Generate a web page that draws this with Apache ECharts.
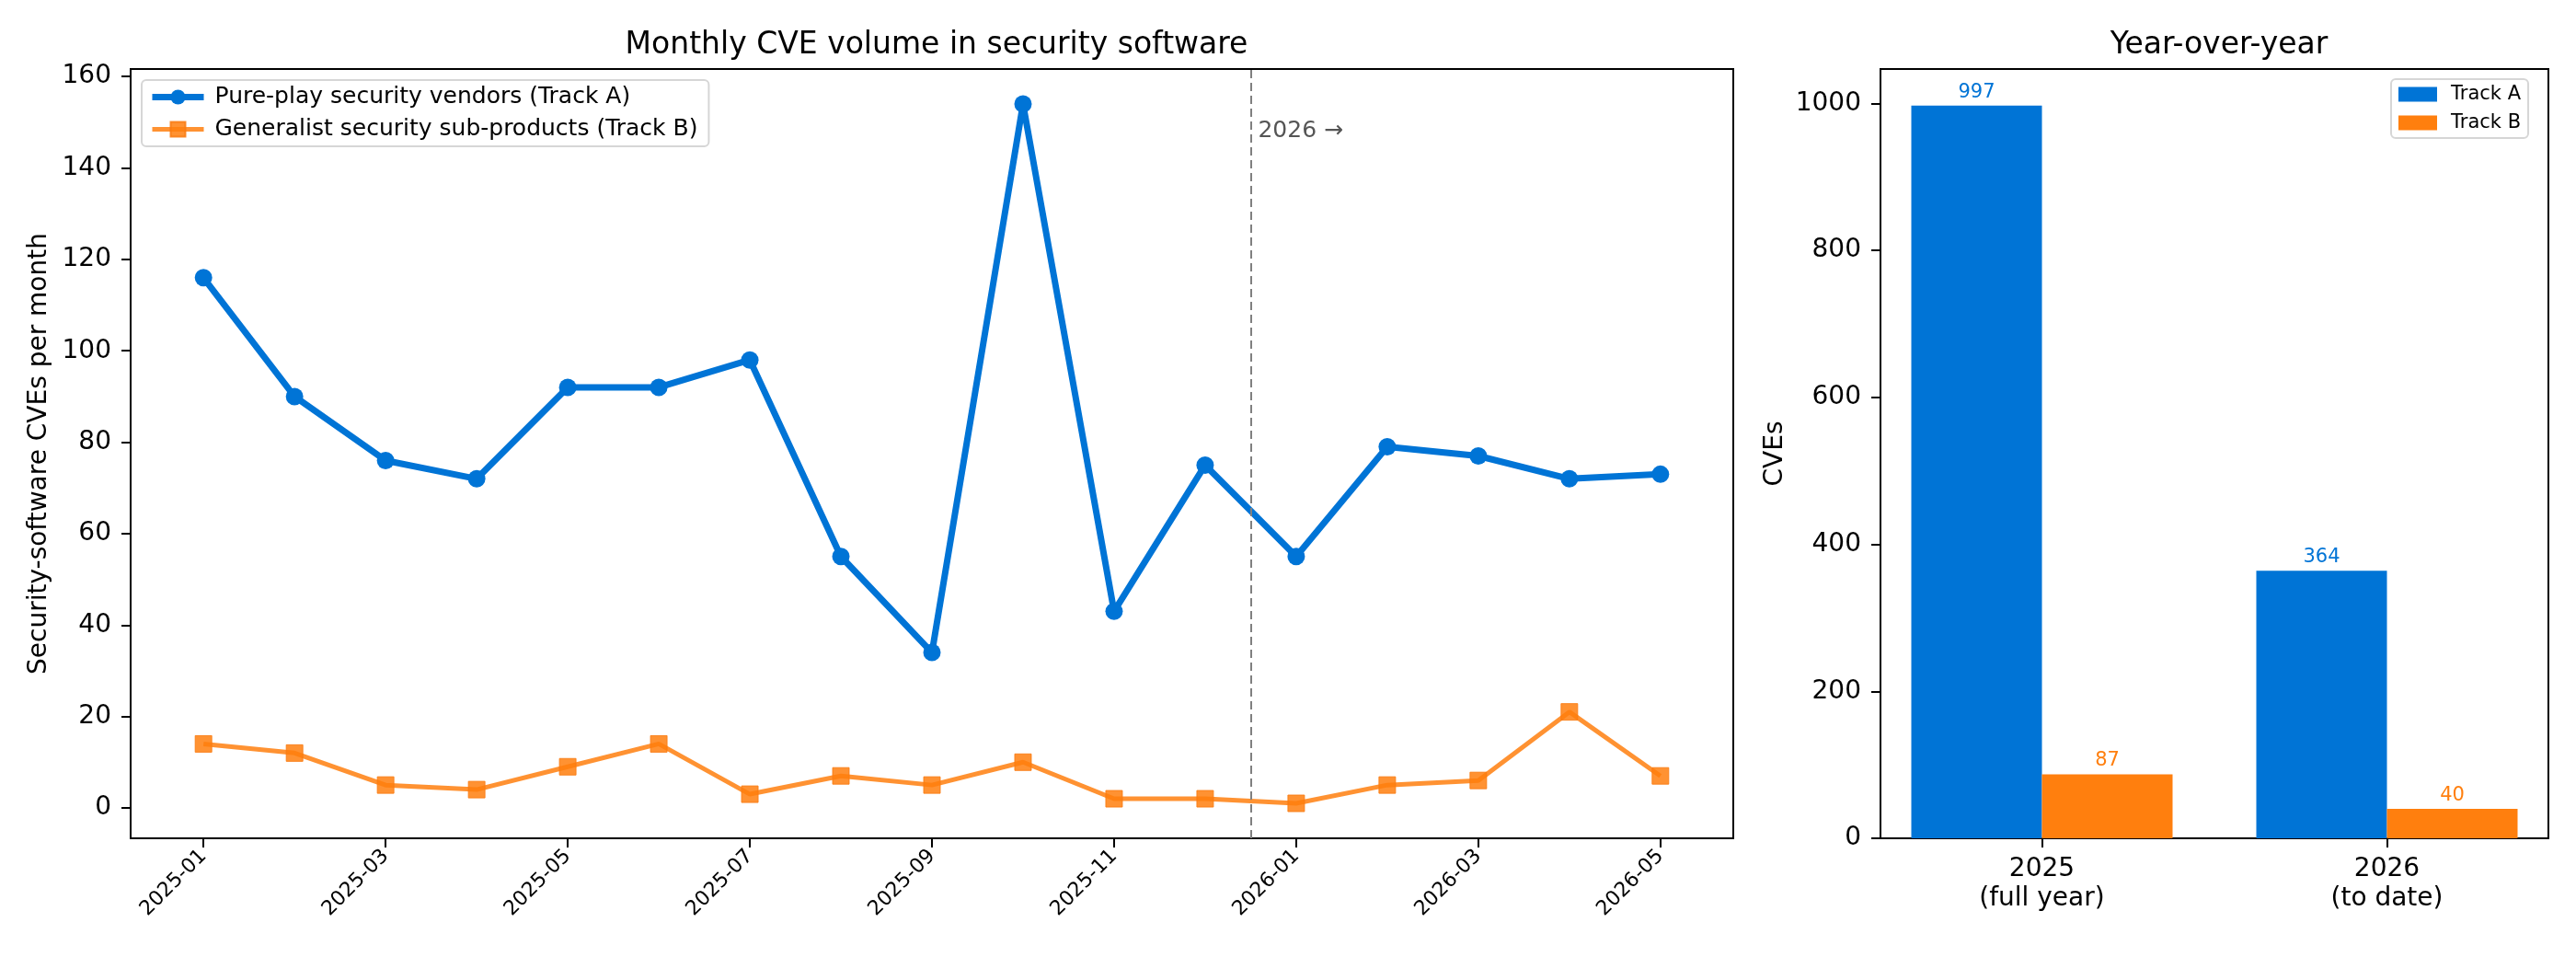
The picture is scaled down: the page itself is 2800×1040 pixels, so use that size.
<!DOCTYPE html>
<html>
<head>
<meta charset="utf-8">
<title>Monthly CVE volume in security software</title>
<script src="https://cdn.jsdelivr.net/npm/echarts@6/dist/echarts.min.js"></script>
<style>
  html, body { margin: 0; padding: 0; background: #fff; }
  #chart { width: 2800px; height: 1040px; }
</style>
</head>
<body>
<div id="chart"></div>
<script>
// monthly counts
const months = ['2025-01', '2025-02', '2025-03', '2025-04', '2025-05', '2025-06', '2025-07', '2025-08',
  '2025-09', '2025-10', '2025-11', '2025-12', '2026-01', '2026-02', '2026-03', '2026-04', '2026-05'];
const trackA = [116, 90, 76, 72, 92, 92, 98, 55, 34, 154, 43, 75, 55, 79, 77, 72, 73];
const trackB = [14, 12, 5, 4, 9, 14, 3, 7, 5, 10, 2, 2, 1, 5, 6, 21, 7];
const monthTicks = ['2025-01', '2025-03', '2025-05', '2025-07', '2025-09', '2025-11', '2026-01', '2026-03', '2026-05'];
const lineTicks = [0, 20, 40, 60, 80, 100, 120, 140, 160];

// yearly totals
const years = ['2025\n(full year)', '2026\n(to date)'];
const yearA = [997, 364];
const yearB = [87, 40];
const barTicks = [0, 200, 400, 600, 800, 1000];

const blue = '#0074D6';
const orange = '#FF7F0E';
const font = 'DejaVu Sans';

const chart = echarts.init(document.getElementById('chart'));

// year boundary sits half-way between 2025-12 and 2026-01
const splitAt = months.indexOf('2026-01') - 0.5;

const tick = { show: true, length: 10, inside: false, lineStyle: { color: '#000', width: 2 } };

const option = {
    animation: false,
    textStyle: { fontFamily: font, color: '#000' },
    title: [
        {
            text: 'Monthly CVE volume in security software',
            left: 1013, top: 28, textAlign: 'center',
            textStyle: { fontSize: 33, fontWeight: 'normal', color: '#000' }
        },
        {
            text: 'Year-over-year',
            left: 2407, top: 28, textAlign: 'center',
            textStyle: { fontSize: 33, fontWeight: 'normal', color: '#000' }
        }
    ],
    legend: [
        {
            data: [
                { name: 'Pure-play security vendors (Track A)', lineStyle: { width: 7 } },
                { name: 'Generalist security sub-products (Track B)', lineStyle: { width: 5 } }
            ],
            orient: 'vertical',
            left: 154, top: 87,
            itemWidth: 56, itemHeight: 20, itemGap: 10,
            padding: [6, 12, 6, 8],
            backgroundColor: 'rgba(255,255,255,0.8)',
            borderColor: '#d6d6d6', borderWidth: 2, borderRadius: 5,
            textStyle: { fontSize: 25, color: '#000', padding: [0, 0, 0, 7] }
        },
        {
            data: ['Track A', 'Track B'],
            orient: 'vertical',
            left: 2599, top: 86,
            icon: 'rect',
            itemWidth: 42, itemHeight: 16, itemGap: 10,
            padding: [6, 8, 6, 8],
            backgroundColor: 'rgba(255,255,255,0.8)',
            borderColor: '#d6d6d6', borderWidth: 2, borderRadius: 5,
            textStyle: { fontSize: 21, color: '#000', padding: [0, 0, 0, 10] }
        }
    ],
    grid: [
        { left: 142, top: 75, width: 1742, height: 836, show: true, borderColor: '#000', borderWidth: 2 },
        { left: 2044, top: 75, width: 726, height: 836, show: true, borderColor: '#000', borderWidth: 2 }
    ],
    xAxis: [
        {
            type: 'value', gridIndex: 0,
            min: -0.8, max: months.length - 1 + 0.8,
            splitLine: { show: false },
            axisLine: { show: false, onZero: false },
            axisTick: Object.assign({ customValues: monthTicks.map(m => months.indexOf(m)) }, tick),
            axisLabel: {
                fontSize: 22, color: '#000', rotate: 45, margin: 16,
                customValues: monthTicks.map(m => months.indexOf(m)),
                formatter: v => months[Math.round(v)]
            }
        },
        {
            type: 'value', gridIndex: 1,
            min: -0.468, max: 1.468,
            splitLine: { show: false },
            axisLine: { show: false, onZero: false },
            axisTick: Object.assign({ customValues: [0, 1] }, tick),
            axisLabel: {
                fontSize: 28, color: '#000', margin: 18, lineHeight: 32,
                customValues: [0, 1],
                formatter: v => years[Math.round(v)]
            }
        }
    ],
    yAxis: [
        {
            type: 'value', gridIndex: 0,
            min: -6.65, max: 161.65,
            name: 'Security-software CVEs per month',
            nameLocation: 'middle', nameGap: 82,
            nameTextStyle: { fontSize: 28, color: '#000' },
            splitLine: { show: false },
            axisLine: { show: false, onZero: false },
            axisTick: Object.assign({ customValues: lineTicks }, tick),
            axisLabel: { fontSize: 28, color: '#000', margin: 21, customValues: lineTicks,
                formatter: v => String(Math.round(v)) }
        },
        {
            type: 'value', gridIndex: 1,
            min: 0, max: 1046.85,
            name: 'CVEs',
            nameLocation: 'middle', nameGap: 100,
            nameTextStyle: { fontSize: 28, color: '#000' },
            splitLine: { show: false },
            axisLine: { show: false, onZero: false },
            axisTick: Object.assign({ customValues: barTicks }, tick),
            axisLabel: { fontSize: 28, color: '#000', margin: 21, customValues: barTicks,
                formatter: v => String(Math.round(v)) }
        }
    ],
    series: [
        {
            name: 'Pure-play security vendors (Track A)',
            type: 'line',
            xAxisIndex: 0, yAxisIndex: 0,
            data: trackA.map((v, i) => [i, v]),
            symbol: 'circle', symbolSize: 19,
            lineStyle: { color: blue, width: 7 },
            itemStyle: { color: blue },
            z: 3,
            markLine: {
                silent: true,
                symbol: 'none',
                label: { show: false },
                lineStyle: { color: '#808080', type: [9, 5], width: 2 },
                data: [{ xAxis: splitAt }]
            },
            markPoint: {
                silent: true,
                symbol: 'circle', symbolSize: 0,
                label: {
                    show: true, position: 'right', distance: 8,
                    formatter: '2026 \u2192', fontSize: 25, color: '#555'
                },
                data: [{ coord: [splitAt, 148] }]
            }
        },
        {
            name: 'Generalist security sub-products (Track B)',
            type: 'line',
            xAxisIndex: 0, yAxisIndex: 0,
            data: trackB.map((v, i) => [i, v]),
            symbol: 'rect', symbolSize: 18,
            lineStyle: { color: orange, width: 5, opacity: 0.85 },
            itemStyle: { color: orange, opacity: 0.85, borderColor: '#f97a10', borderWidth: 1 },
            z: 2
        },
        {
            name: 'Track A',
            type: 'bar',
            xAxisIndex: 1, yAxisIndex: 1,
            data: yearA.map((v, i) => [i, v]),
            barWidth: 142, barGap: '0%',
            itemStyle: { color: blue },
            label: { show: true, position: 'top', distance: 4, fontSize: 21, color: blue }
        },
        {
            name: 'Track B',
            type: 'bar',
            xAxisIndex: 1, yAxisIndex: 1,
            data: yearB.map((v, i) => [i, v]),
            barWidth: 142, barGap: '0%',
            itemStyle: { color: orange },
            label: { show: true, position: 'top', distance: 4, fontSize: 21, color: orange }
        }
    ]
};

chart.setOption(option);
</script>
</body>
</html>
